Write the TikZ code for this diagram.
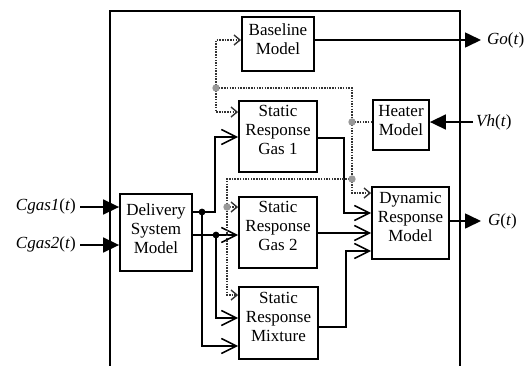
\documentclass[tikz,border=0pt]{standalone}
\usepackage{fontspec}
\setmainfont{Liberation Serif}
\usetikzlibrary{arrows.meta,calc}
\begin{document}
\begin{tikzpicture}[x=1pt,y=-1pt,
  blk/.style={draw, line width=1.8pt, inner sep=0pt},
  txt/.style={inner sep=0pt, align=center, font=\fontsize{17}{19}\selectfont},
  lbl/.style={inner sep=0pt, font=\fontsize{17}{19}\selectfont},
  wire/.style={line width=1.6pt},
  openarr/.style={-{Straight Barb[length=15pt,width=15pt,line width=1.6pt]}},
  smallarr/.style={-{Straight Barb[length=6pt,width=10pt,line width=1.4pt]}},
  fillarr/.style={-{Triangle[length=16pt,width=15pt]}},
  dotw/.style={line width=1.5pt, black!80, dash pattern=on 1.5pt off 1.2pt},
  jdot/.style={fill=black},
  gdot/.style={fill=black!40}
]
\useasboundingbox (0,0) rectangle (526,365);
% outer frame (bottom edge out of view)
\draw[line width=1.8pt] (110,366) -- (110,11) -- (460,11) -- (460,366);

% blocks
\node[blk, minimum width=72pt, minimum height=54pt] (base) at (278,44) {};
\node[blk, minimum width=78pt, minimum height=71pt] (srg1) at (278,136.5) {};
\node[blk, minimum width=56pt, minimum height=50pt] (heater) at (401,125) {};
\node[blk, minimum width=72pt, minimum height=77pt] (dsm) at (156,232.5) {};
\node[blk, minimum width=78pt, minimum height=71pt] (srg2) at (278,232.5) {};
\node[blk, minimum width=79pt, minimum height=72pt] (srm) at (278.5,323) {};
\node[blk, minimum width=77pt, minimum height=72pt] (drm) at (410.5,223) {};

% block texts
\node[txt] (baset) at ($(base)+(0,-4.5)$) {Baseline\\Model};
\node[txt] (srg1t) at ($(srg1)+(0,-7)$) {Static\\Response\\Gas 1};
\node[txt] (heatert) at ($(heater)+(0,-4.5)$) {Heater\\Model};
\node[txt] (dsmt) at ($(dsm)+(0,-3.5)$) {Delivery\\System\\Model};
\node[txt] (srg2t) at ($(srg2)+(0,-6.5)$) {Static\\Response\\Gas 2};
\node[txt] (srmt) at ($(srm)+(0,-6)$) {Static\\Response\\Mixture};
\node[txt] (drmt) at ($(drm)+(0,-6)$) {Dynamic\\Response\\Model};

% labels
\node[lbl, anchor=east] (cg1) at (76,206) {\textit{Cgas1}(\textit{t})};
\node[lbl, anchor=east] (cg2) at (76,244) {\textit{Cgas2}(\textit{t})};
\node[lbl, anchor=west] (go) at (487,40) {\textit{Go}(\textit{t})};
\node[lbl, anchor=west] (gt) at (488,221) {\textit{G}(\textit{t})};
\node[lbl, anchor=west] (vh) at (476,122) {\textit{Vh}(\textit{t})};

% junctions
\coordinate (j1) at (202,212);
\coordinate (j2) at (216,235);
\coordinate (t1) at (216,88);
\coordinate (h1) at (352,122);
\coordinate (h2) at (352,179);
\coordinate (g3) at (227,207);

% inputs / outputs
\draw[wire,fillarr] ([xshift=4pt]cg1.east |- 0,207) -- (dsm.west |- 0,207);
\draw[wire,fillarr] ([xshift=4pt]cg2.east |- 0,245) -- (dsm.west |- 0,245);
\draw[wire,fillarr,shorten >=6pt] (base.east |- 0,40) -- (go.west |- 0,40);
\draw[wire,fillarr,shorten >=7pt] (drm.east |- 0,221) -- (gt.west |- 0,221);
\draw[wire,fillarr,shorten <=3pt] (vh.west |- 0,122) -- (heater.east |- 0,122);

% delivery system outputs
\draw[wire] (dsm.east |- 0,212) -- (j1);
\draw[wire,openarr] (j1) -- (215,212) |- (srg1.west |- 0,137);
\draw[wire,openarr] (j1) |- (srm.west |- 0,346);
\draw[wire,openarr] (dsm.east |- 0,235) -- (srg2.west |- 0,235);
\draw[wire,openarr] (j2) |- (srm.west |- 0,318);

% static responses to dynamic model
\draw[wire,openarr] (srg1.east |- 0,138) -| (344,213) -- (drm.west |- 0,213);
\draw[wire,openarr] (srg2.east |- 0,233) -- (drm.west |- 0,233);
\draw[wire,openarr] (srm.east |- 0,327) -| (346,251) -- (drm.west |- 0,251);

% heater (dotted) connections
\draw[dotw] (heater.west |- 0,122) -- (h1);
\draw[dotw,smallarr] (t1) -- (352,88) |- (drm.west |- 0,193);
\draw[dotw,smallarr] (t1) |- (base.west |- 0,40);
\draw[dotw,smallarr] (t1) |- (srg1.west |- 0,112);
\draw[dotw,smallarr] (h2) -| (227,295) -- (srm.west |- 0,295);
\draw[dotw,smallarr] (g3) -- (srg2.west |- 0,207);

% dots
\fill[jdot] (j1) circle (3.4pt);
\fill[jdot] (j2) circle (3.4pt);
\fill[gdot] (t1) circle (3.7pt);
\fill[gdot] (h1) circle (3.7pt);
\fill[gdot] (h2) circle (3.7pt);
\fill[gdot] (g3) circle (3.7pt);
\end{tikzpicture}
\end{document}
